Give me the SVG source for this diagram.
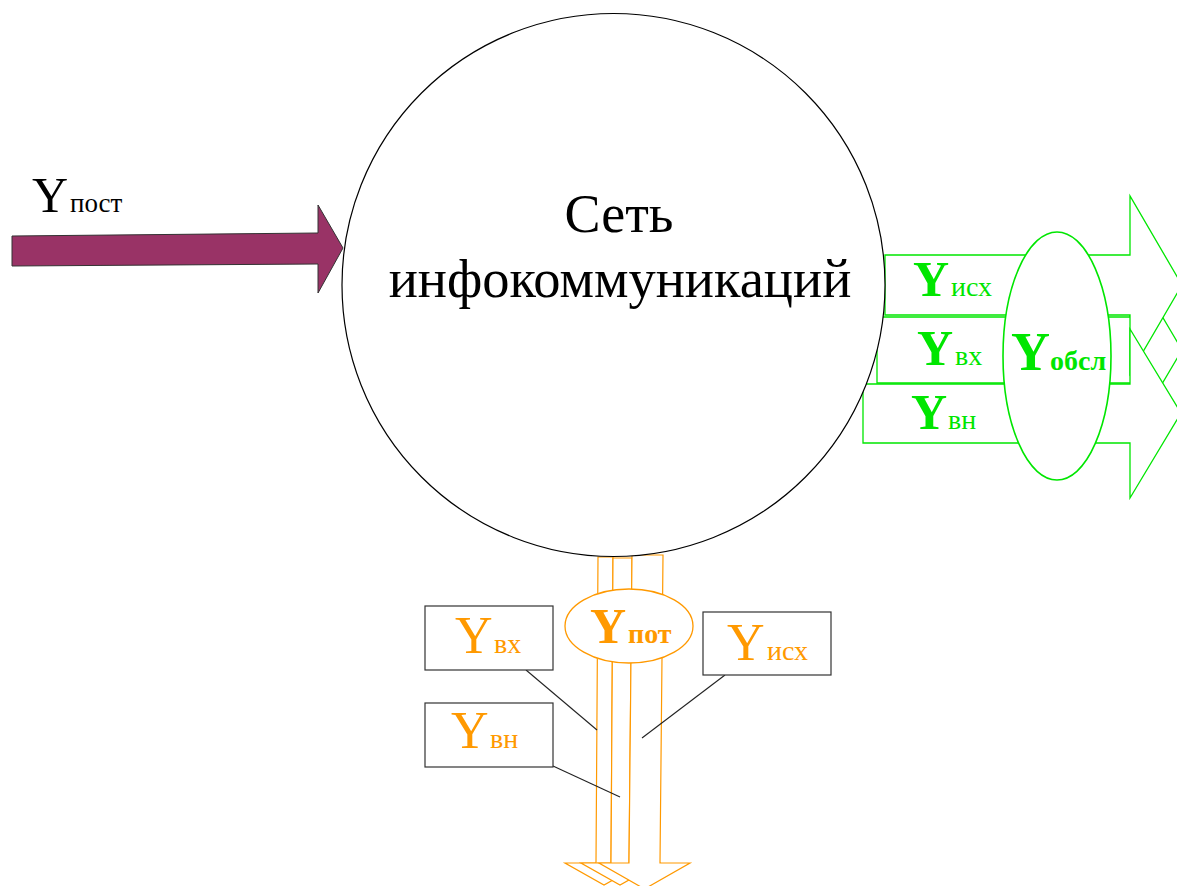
<svg xmlns="http://www.w3.org/2000/svg" width="1177" height="886" viewBox="0 0 1177 886">
<style>
.t{font-family:"Liberation Serif","Times New Roman",serif}
.g{fill:#00e600}
.o{fill:#ff9900}
.garr{fill:#fff;stroke:#00e600;stroke-width:1.3}
.oarr{fill:#fff;stroke:#ff9900;stroke-width:1.2}
.box{fill:#fff;stroke:#333;stroke-width:1.2}
.lead{stroke:#222;stroke-width:1.1;fill:none}
.big{font-size:50px;font-weight:bold}
.bigr{font-size:52px}
.sub{font-size:28px}
</style>
<rect width="1177" height="886" fill="#fff"/>
<g id="connectors">
  <polygon id="in-arrow" points="12,236 318,233 318,205 343,248 318,293 318,264 12,266" fill="#993366" stroke="#333" stroke-width="1"/>
  <g id="out-green">
    <polygon class="garr" points="877,317 1130,317 1130,262 1182,350 1130,438 1130,383 877,383"/>
    <polygon class="garr" points="885,255 1130,255 1130,196 1182,285 1130,374 1130,315 885,315"/>
    <polygon class="garr" points="863,384 1130,384 1130,329 1181,413 1130,498 1130,443 863,443"/>
  </g>
  <g id="out-orange">
    <polygon class="oarr" points="598,557 613,557 611,863 643,863 604,885 565,863 596,863"/>
    <polygon class="oarr" points="613,558 632,558 629,863 659,863 620,885 581,863 611,863"/>
    <polygon class="oarr" points="632,555 663,555 660,863 690,863 644.5,889 599,863 629,863"/>
  </g>
  <line class="lead" x1="526" y1="670" x2="597" y2="730"/>
  <line class="lead" x1="725" y1="675" x2="642" y2="738"/>
  <line class="lead" x1="553" y1="766" x2="620" y2="797"/>
</g>
<g id="network">
  <circle cx="613.5" cy="285" r="271.5" fill="#fff" stroke="#000" stroke-width="1.2"/>
  <text class="t" x="619" y="232" font-size="54" text-anchor="middle">Сеть</text>
  <text class="t" x="620" y="297" font-size="54.5" text-anchor="middle">инфокоммуникаций</text>
</g>
<g id="label-post">
  <text class="t" y="212"><tspan x="32" font-size="50">Y</tspan><tspan x="70" font-size="27">пост</tspan></text>
</g>
<g id="label-isx-green" class="t g">
  <text y="296"><tspan x="913" class="big">Y</tspan><tspan x="951" class="sub">исх</tspan></text>
</g>
<g id="label-vx-green" class="t g">
  <text y="365"><tspan x="917" class="big">Y</tspan><tspan x="955" class="sub">вх</tspan></text>
</g>
<g id="label-vn-green" class="t g">
  <text y="429"><tspan x="911" class="big">Y</tspan><tspan x="948" class="sub">вн</tspan></text>
</g>
<g id="obsl">
  <ellipse cx="1057" cy="356" rx="54" ry="124" fill="#fff" stroke="#00e600" stroke-width="1.6"/>
  <text class="t g" y="370" font-weight="bold"><tspan x="1011" font-size="54">Y</tspan><tspan x="1050" font-size="28">обсл</tspan></text>
</g>
<g id="pot">
  <ellipse cx="629" cy="626" rx="64" ry="37" fill="#fff" stroke="#ff9900" stroke-width="1.3"/>
  <text class="t o" y="643" font-weight="bold"><tspan x="590" font-size="50">Y</tspan><tspan x="628" font-size="28">пот</tspan></text>
</g>
<g id="box-vx">
  <rect class="box" x="425" y="606" width="128" height="64"/>
  <text class="t o" y="653"><tspan x="455" class="bigr">Y</tspan><tspan x="494" class="sub">вх</tspan></text>
</g>
<g id="box-vn">
  <rect class="box" x="425" y="703" width="128" height="64"/>
  <text class="t o" y="748"><tspan x="451" class="bigr">Y</tspan><tspan x="490" class="sub">вн</tspan></text>
</g>
<g id="box-isx">
  <rect class="box" x="703" y="612" width="128" height="63"/>
  <text class="t o" y="660"><tspan x="727" class="bigr">Y</tspan><tspan x="767" class="sub">исх</tspan></text>
</g>
</svg>
